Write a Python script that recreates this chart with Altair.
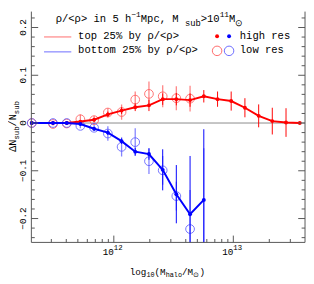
import altair as alt
import pandas as pd

# ---------------- data ----------------
log_mass = [11.313, 11.491, 11.606, 11.720, 11.835, 11.950, 12.065, 12.179, 12.294, 12.409,
            12.523, 12.638, 12.753, 12.868, 12.982, 13.097, 13.212, 13.326, 13.441, 13.556]

red_hi = [0.0, 0.0, 0.0, 0.003, 0.007, 0.018, 0.026, 0.033, 0.037, 0.050,
          0.050, 0.048, 0.056, 0.050, 0.046, 0.032, 0.015, 0.004, 0.001, 0.0]
red_hi_err = [0.0, 0.001, 0.002, 0.003, 0.004, 0.006, 0.007, 0.008, 0.012, 0.012,
              0.013, 0.014, 0.013, 0.016, 0.020, 0.020, 0.024, 0.028, 0.030, 0.0]

red_lo = [0.0, -0.002, -0.001, 0.008, 0.006, 0.022, 0.023, 0.049, 0.061, 0.056, 0.052, 0.051]
red_lo_err = [0.001, 0.003, 0.003, 0.010, 0.009, 0.009, 0.016, 0.017, 0.026, 0.023, 0.025, 0.027]

blue_hi = [0.0, 0.0, 0.0, -0.002, -0.012, -0.020, -0.038, -0.060, -0.065, -0.098,
           -0.149, -0.191, -0.161]
blue_hi_err = [0.0, 0.001, 0.002, 0.003, 0.004, 0.005, 0.006, 0.008, 0.012, 0.043,
               0.061, 0.122, 0.148]

blue_lo = [0.0, 0.0, 0.0, -0.006, -0.010, -0.022, -0.050, -0.040, -0.080, -0.099,
           -0.153, -0.222, -0.300]
blue_lo_err = [0.001, 0.003, 0.003, 0.005, 0.006, 0.015, 0.020, 0.029, 0.027, 0.030,
               0.030, 0.082, 0.247]

y_major = [-0.2, -0.1, 0.0, 0.1, 0.2]
y_labels = ["−0.2", "−0.1", "0", "0.1", "0.2"]
x_major = [1e12, 1e13]
x_exp = ["12", "13"]

# ---------------- layout ----------------
W, H = 281, 237
XMIN, XMAX = 10 ** 11.31, 10 ** 13.6
YMIN, YMAX = -0.25, 0.2333
FONT = "Liberation Mono"
FRAME = "#555555"
RED, BLUE = "#ff0000", "#0000ff"
RED_L, BLUE_L = "#ff5a5a", "#5a5aff"

xs = alt.Scale(type="log", domain=[XMIN, XMAX], nice=False)
ys = alt.Scale(domain=[YMIN, YMAX], nice=False, zero=False)


def series(vals, errs):
    return pd.DataFrame({
        "M": [10 ** m for m in log_mass[:len(vals)]],
        "v": vals,
        "lo": [v - e for v, e in zip(vals, errs)],
        "hi": [v + e for v, e in zip(vals, errs)],
    })


def X():
    return alt.X("M:Q", scale=xs, axis=None)


def Y(f="v"):
    return alt.Y(f + ":Q", scale=ys, axis=None)


layers = []

# zero line
layers.append(alt.Chart(pd.DataFrame({"v": [0.0]})).mark_rule(color="#8a8a8a", strokeWidth=1)
              .encode(y=Y(), x=alt.value(0), x2=alt.value(W)))

# low-res (open circles + light bars)
for vals, errs, col in [(red_lo, red_lo_err, RED_L), (blue_lo, blue_lo_err, BLUE_L)]:
    d = series(vals, errs)
    layers.append(alt.Chart(d).mark_rule(color=col, strokeWidth=1.3, opacity=0.75, clip=True)
                  .encode(x=X(), y=Y("lo"), y2=alt.Y2("hi:Q")))
    layers.append(alt.Chart(d).transform_filter(f"datum.v > {YMIN}")
                  .mark_point(shape="circle", filled=False, size=80, strokeWidth=1,
                              color=col, opacity=0.85)
                  .encode(x=X(), y=Y()))

# high-res (line + dots + bars)
for vals, errs, col in [(red_hi, red_hi_err, RED), (blue_hi, blue_hi_err, BLUE)]:
    d = series(vals, errs)
    layers.append(alt.Chart(d).mark_rule(color=col, strokeWidth=1, clip=True)
                  .encode(x=X(), y=Y("lo"), y2=alt.Y2("hi:Q")))
    layers.append(alt.Chart(d).mark_line(color=col, strokeWidth=2)
                  .encode(x=X(), y=Y()))
    layers.append(alt.Chart(d).mark_point(shape="circle", filled=True, size=16, color=col, opacity=1)
                  .encode(x=X(), y=Y()))

# frame (left, bottom, right)
one = pd.DataFrame({"a": [0]})
layers.append(alt.Chart(one).mark_rule(color=FRAME, strokeWidth=1)
              .encode(x=alt.value(0), y=alt.value(0), y2=alt.value(H)))
layers.append(alt.Chart(one).mark_rule(color=FRAME, strokeWidth=1)
              .encode(x=alt.value(W), y=alt.value(0), y2=alt.value(H)))
layers.append(alt.Chart(one).mark_rule(color=FRAME, strokeWidth=1)
              .encode(x=alt.value(0), x2=alt.value(W), y=alt.value(H)))

# ticks (inward)
x_minor = [m * 10 ** e for e in (11, 12, 13) for m in range(2, 10) if XMIN <= m * 10 ** e <= XMAX]
y_minor = [round(i * 0.02, 2) for i in range(-12, 12) if i % 5 != 0]
for vals, ln in [(x_major, 7), (x_minor, 3.5)]:
    layers.append(alt.Chart(pd.DataFrame({"M": vals})).mark_rule(color=FRAME)
                  .encode(x=X(), y=alt.value(H), y2=alt.value(H - ln)))
for vals, ln in [(y_major, 7), (y_minor, 3.5)]:
    dfy = pd.DataFrame({"v": vals})
    layers.append(alt.Chart(dfy).mark_rule(color=FRAME)
                  .encode(y=Y(), x=alt.value(0), x2=alt.value(ln)))
    layers.append(alt.Chart(dfy).mark_rule(color=FRAME)
                  .encode(y=Y(), x=alt.value(W), x2=alt.value(W - ln)))

# y tick labels (rotated)
layers.append(alt.Chart(pd.DataFrame({"v": y_major, "t": y_labels}))
              .mark_text(font=FONT, fontSize=9.5, angle=270, align="center", baseline="middle", color="black")
              .encode(y=Y(), x=alt.value(-8.5), text="t:N"))

# x tick labels 10^n
dfx = pd.DataFrame({"M": x_major, "e": x_exp, "b": ["10", "10"]})
layers.append(alt.Chart(dfx).mark_text(font=FONT, fontSize=9.5, align="right", baseline="middle", color="black")
              .encode(x=X(), y=alt.value(H + 10), text="b:N"))
layers.append(alt.Chart(dfx).mark_text(font=FONT, fontSize=7.5, align="left", baseline="middle", color="black")
              .encode(x=X(), y=alt.value(H + 5.5), text="e:N"))


# rich text pieces (titles and legend)
def rich(pieces, x0, y0, rotate=False):
    rows, pos = [], 0.0
    for p in pieces:
        txt, kind, size = p[:3]
        wf = p[3] if len(p) > 3 else 0.6
        off = {"n": 0.0, "sub": 3.5, "sup": -4.0}[kind]
        if rotate:
            rows.append({"t": txt, "x": x0 + off, "y": y0 - pos, "s": size, "a": 270})
        else:
            rows.append({"t": txt, "x": x0 + pos, "y": y0 + off, "s": size, "a": 0})
        pos += len(txt) * wf * size
    return rows


rows = []
rows += rich([("ρ/<ρ> in 5 h", "n", 10.8), ("−1", "sup", 8), ("Mpc,  M", "n", 10.8), ("sub", "sub", 9),
              (">10", "n", 10.8), ("11", "sup", 8), ("M", "n", 10.8), ("⊙", "sub", 9)], 25, 8)
rows += rich([("top 25% by ρ/<ρ>", "n", 10.8)], 48, 25)
rows += rich([("bottom 25% by ρ/<ρ>", "n", 10.8)], 48, 40)
rows += rich([("high res", "n", 10.8)], 214, 25)
rows += rich([("low res", "n", 10.8)], 214, 40)
rows += rich([("log", "n", 9.5), ("10", "sub", 7), ("(M", "n", 9.5), ("halo", "sub", 7),
              ("/M", "n", 9.5), ("⊙", "sub", 7, 0.95), (")", "n", 9.5)], 101, 267)
rows += rich([("ΔN", "n", 10.5), ("sub", "sub", 7.5), ("/N", "n", 10.5), ("sub", "sub", 7.5)],
             -18.5, 144, rotate=True)
txt = pd.DataFrame(rows)
layers.append(alt.Chart(txt).mark_text(font=FONT, align="left", baseline="middle", color="black")
              .encode(x=alt.X("x:Q", scale=None, axis=None), y=alt.Y("y:Q", scale=None, axis=None),
                      text="t:N", size=alt.Size("s:Q", scale=None, legend=None),
                      angle=alt.Angle("a:Q", scale=None, legend=None)))

# legend symbols
leg_lines = pd.DataFrame({"x": [13, 13], "x2": [41, 41], "y": [26, 41.3], "c": ["#ff9c9c", "#9c9cff"]})
layers.append(alt.Chart(leg_lines).mark_rule(strokeWidth=1.5)
              .encode(x=alt.X("x:Q", scale=None, axis=None), x2="x2:Q",
                      y=alt.Y("y:Q", scale=None, axis=None), color=alt.Color("c:N", scale=None)))
leg_pts = pd.DataFrame({"x": [190.7, 203], "y": [25.3, 25.3], "c": [RED, BLUE]})
layers.append(alt.Chart(leg_pts).mark_point(shape="circle", filled=True, size=16, opacity=1)
              .encode(x=alt.X("x:Q", scale=None, axis=None), y=alt.Y("y:Q", scale=None, axis=None),
                      color=alt.Color("c:N", scale=None)))
leg_open = pd.DataFrame({"x": [190.7, 203], "y": [40.3, 40.3], "c": [RED_L, BLUE_L]})
layers.append(alt.Chart(leg_open).mark_point(shape="circle", filled=False, size=95, strokeWidth=1, opacity=0.9)
              .encode(x=alt.X("x:Q", scale=None, axis=None), y=alt.Y("y:Q", scale=None, axis=None),
                      color=alt.Color("c:N", scale=None)))

chart = (alt.layer(*layers)
         .resolve_scale(x="independent", y="independent", color="independent")
         .properties(width=W, height=H, autosize=alt.AutoSizeParams(type="none"),
                     padding={"left": 24, "top": 0, "right": 1, "bottom": 39})
         .configure_view(stroke=None))

chart.save("out.html", embed_options={"renderer": "svg", "actions": False})
